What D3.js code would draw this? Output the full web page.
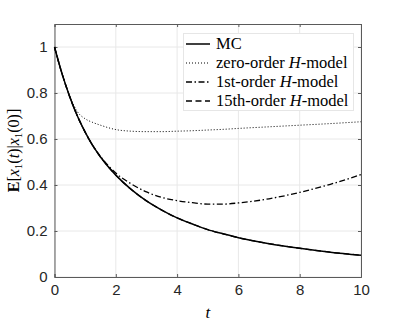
<!DOCTYPE html>
<html><head><meta charset="utf-8">
<script src="https://cdn.jsdelivr.net/npm/d3@7"></script>
<style>html,body{margin:0;padding:0;background:#fff}svg{display:block}</style>
</head><body>
<script>
const tValues = [0,0.25,0.5,0.75,1,1.25,1.5,2,2.5,3,3.5,4,4.5,5,5.5,6,7,8,9,10];
const mc      = [1,0.882,0.783,0.699,0.630,0.571,0.522,0.443,0.381,0.331,0.291,0.257,0.2305,0.206,0.188,0.171,0.145,0.125,0.108,0.0946];
const zeroOrder = [1,0.882,0.785,0.718,0.688,0.672,0.660,0.641,0.634,0.632,0.632,0.634,0.636,0.639,0.642,0.646,0.653,0.660,0.667,0.675];
const firstOrder = [1,0.882,0.783,0.699,0.630,0.571,0.524,0.452,0.405,0.370,0.346,0.332,0.323,0.317,0.317,0.322,0.340,0.368,0.403,0.445];
const fifteenthOrder = [1,0.882,0.783,0.699,0.630,0.571,0.522,0.443,0.381,0.331,0.291,0.257,0.2305,0.206,0.188,0.171,0.145,0.125,0.108,0.0946];
const xTicks = [0,2,4,6,8,10];
const yTicks = [0,0.2,0.4,0.6,0.8,1];
const legendLabels = ["MC","zero-order","1st-order","15th-order"];

const W=399,H=327;
const L=54.5,R=361,T=24,B=277;
const svg=d3.select("body").append("svg").attr("width",W).attr("height",H);
const x=d3.scaleLinear().domain([0,10]).range([L,R]);
const y=d3.scaleLinear().domain([0,1.1]).range([B,T]);

// grid
const g=svg.append("g");
g.selectAll(".gx").data(xTicks).join("line").attr("x1",d=>x(d)).attr("x2",d=>x(d)).attr("y1",T).attr("y2",B).attr("stroke","#e8e8e8").attr("stroke-width",1);
g.selectAll(".gy").data(yTicks).join("line").attr("y1",d=>y(d)).attr("y2",d=>y(d)).attr("x1",L).attr("x2",R).attr("stroke","#e8e8e8").attr("stroke-width",1);

const axisColor="#5a5a5a";
const font="'Liberation Sans', Arial, sans-serif";
const xAx=svg.append("g").attr("transform",`translate(0,${B})`).call(d3.axisBottom(x).tickValues(xTicks).tickSize(-3).tickPadding(7).tickFormat(d3.format("d")));
const xAxT=svg.append("g").attr("transform",`translate(0,${T})`).call(d3.axisTop(x).tickValues(xTicks).tickSize(-3).tickFormat(""));
const yAx=svg.append("g").attr("transform",`translate(${L},0)`).call(d3.axisLeft(y).tickValues(yTicks).tickSize(-3).tickPadding(7).tickFormat(d=>d===0||d===1?String(d):d3.format(".1f")(d)));
const yAxR=svg.append("g").attr("transform",`translate(${R},0)`).call(d3.axisRight(y).tickValues(yTicks).tickSize(-3).tickFormat(""));
[xAx,xAxT,yAx,yAxR].forEach(a=>{
  a.select(".domain").attr("stroke",axisColor).attr("stroke-width",1);
  a.selectAll(".tick line").attr("stroke",axisColor);
  a.selectAll("text").attr("fill","#262626").style("font-family",font).style("font-size","15px");
});

const series=[
  {v:fifteenthOrder,dash:"6,3.5",w:1.3},
  {v:zeroOrder,dash:"1,2",w:1},
  {v:firstOrder,dash:"6,2.5,1.5,2.5",w:1.3},
  {v:mc,dash:null,w:1.5}
];
const line=d3.line().x((d,i)=>x(tValues[i])).y(d=>y(d)).curve(d3.curveMonotoneX);
svg.append("g").selectAll("path").data(series).join("path")
  .attr("d",d=>line(d.v)).attr("fill","none").attr("stroke","#000")
  .attr("stroke-width",d=>d.w).attr("stroke-dasharray",d=>d.dash);

// legend
const serif="'Liberation Serif','Times New Roman',serif";
const lg=svg.append("g");
lg.append("rect").attr("x",183.5).attr("y",33.5).attr("width",170).attr("height",77).attr("fill","#fff").attr("stroke","#e6e6e6");
const legStyles=[{dash:null,w:1.5},{dash:"1,2",w:1},{dash:"6,2.5,1.5,2.5",w:1.3},{dash:"6,3.5",w:1.3}];
legendLabels.forEach((lab,i)=>{
  const yy=44+i*19;
  lg.append("line").attr("x1",186).attr("x2",210).attr("y1",yy).attr("y2",yy).attr("stroke","#000").attr("stroke-width",legStyles[i].w).attr("stroke-dasharray",legStyles[i].dash);
  const t=lg.append("text").attr("x",216).attr("y",yy+5).style("font-family",serif).style("font-size","16.5px").attr("fill","#000");
  t.append("tspan").text(lab);
  if(i>0){
    t.append("tspan").text(" ");
    t.append("tspan").style("font-style","italic").text("H");
    t.append("tspan").text("-model");
  }
});

// axis labels
svg.append("text").attr("x",(L+R)/2).attr("y",318).attr("text-anchor","middle").style("font-family",serif).style("font-size","17px").style("font-style","italic").text("t");
const yl=svg.append("text").attr("transform",`translate(19,${(T+B)/2}) rotate(-90)`).attr("text-anchor","middle").style("font-family",serif).style("font-size","16px");
yl.append("tspan").style("font-weight","bold").text("E");
yl.append("tspan").text("[");
yl.append("tspan").style("font-style","italic").text("x");
yl.append("tspan").attr("dy",3).style("font-size","11px").text("1");
yl.append("tspan").attr("dy",-3).text("(");
yl.append("tspan").style("font-style","italic").text("t");
yl.append("tspan").text(")|");
yl.append("tspan").style("font-style","italic").text("x");
yl.append("tspan").attr("dy",3).style("font-size","11px").text("1");
yl.append("tspan").attr("dy",-3).text("(0)]");
</script>
</body></html>
